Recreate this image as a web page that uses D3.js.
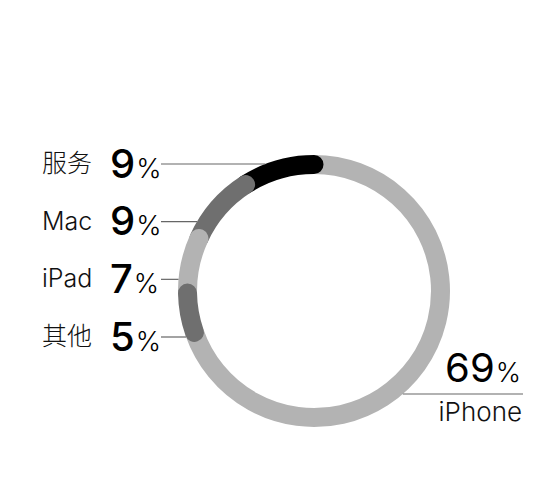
<!DOCTYPE html>
<html>
<head>
<meta charset="utf-8">
<script src="https://cdn.jsdelivr.net/npm/d3@7"></script>
<style>
  body { margin: 0; background: #fff; }
</style>
</head>
<body>
<div id="chart"></div>
<script>
// Revenue share, clockwise from 12 o'clock
const categories = ["iPhone", "其他", "iPad", "Mac", "服务"];
const shares = [69, 5, 7, 9, 9];
// left-side labels, top to bottom
const leftOrder = ["服务", "Mac", "iPad", "其他"];

const width = 550;
const height = 498;
const cx = 314, cy = 291;
const ringR = 126.5;     // ring centre line
const ringW = 19;
const outerR = ringR + ringW / 2;
const font = "Inter, 'Liberation Sans', 'Noto Sans CJK SC', sans-serif";

const svg = d3.select("#chart")
    .append("svg")
    .attr("width", width)
    .attr("height", height);

const color = d3.scaleOrdinal()
    .domain(categories)
    .range(["#b3b3b3", "#6f6f6f", "#b3b3b3", "#6f6f6f", "#000000"]);

// Angle scale, 0 at the top going clockwise
const total = d3.sum(shares);
const angle = d3.scaleLinear().domain([0, total]).range([0, 2 * Math.PI]);

const cum = d3.cumsum(shares);
const segs = categories.map((c, i) => ({
    name: c,
    value: shares[i],
    a0: angle(cum[i] - shares[i]),
    a1: angle(cum[i])
}));

function arcPath(d) {
    const p = d3.path();
    p.arc(0, 0, ringR, d.a0 - Math.PI / 2, d.a1 - Math.PI / 2);
    return p.toString();
}

const ring = svg.append("g").attr("transform", `translate(${cx},${cy})`);

// iPhone first (flat ends), then the others with round ends, last to first
const drawOrder = [segs[0]].concat(segs.slice(1).reverse());
ring.selectAll("path.seg")
    .data(drawOrder)
    .enter()
    .append("path")
    .attr("class", "seg")
    .attr("d", arcPath)
    .attr("fill", "none")
    .attr("stroke", d => color(d.name))
    .attr("stroke-width", ringW)
    .attr("stroke-linecap", d => d.name === "iPhone" ? "butt" : "round");

// Left labels
const rowY = d3.scalePoint().domain(leftOrder).range([164, 337]);
const shareOf = name => shares[categories.indexOf(name)];

function ringX(y, side) {
    const dy = y - cy;
    return cx + side * Math.sqrt(outerR * outerR - dy * dy);
}

const rows = svg.append("g")
    .selectAll("g")
    .data(leftOrder)
    .enter()
    .append("g");

rows.append("line")
    .attr("x1", 161)
    .attr("x2", d => ringX(rowY(d), -1))
    .attr("y1", d => rowY(d))
    .attr("y2", d => rowY(d))
    .attr("stroke", "#666")
    .attr("stroke-width", 1.2);

rows.append("text")
    .attr("x", 42)
    .attr("y", d => rowY(d) + 8)
    .attr("font-family", font)
    .attr("font-weight", 300)
    .style("font-size", "25px")
    .attr("fill", "#111")
    .text(d => d);

const num = rows.append("text")
    .attr("x", 110)
    .attr("y", d => rowY(d) + 13.5)
    .attr("font-family", font)
    .attr("fill", "#000");
num.append("tspan")
    .style("font-size", "40px")
    .attr("font-weight", 500)
    .text(d => shareOf(d));
num.append("tspan")
    .style("font-size", "27px")
    .attr("font-weight", 300)
    .attr("dx", 1)
    .text("%");

// iPhone label on the right
const iy = 394;
svg.append("line")
    .attr("x1", ringX(iy, 1))
    .attr("x2", 523)
    .attr("y1", iy)
    .attr("y2", iy)
    .attr("stroke", "#666")
    .attr("stroke-width", 1.2);

const big = svg.append("text")
    .attr("x", 521)
    .attr("y", iy - 12)
    .attr("text-anchor", "end")
    .attr("font-family", font)
    .attr("fill", "#000");
big.append("tspan")
    .style("font-size", "40px")
    .attr("font-weight", 400)
    .text(shares[0]);
big.append("tspan")
    .style("font-size", "27px")
    .attr("font-weight", 300)
    .attr("dx", 1)
    .text("%");

svg.append("text")
    .attr("x", 522)
    .attr("y", iy + 27)
    .attr("text-anchor", "end")
    .attr("font-family", font)
    .attr("font-weight", 300)
    .style("font-size", "26px")
    .attr("fill", "#111")
    .text(categories[0]);
</script>
</body>
</html>
